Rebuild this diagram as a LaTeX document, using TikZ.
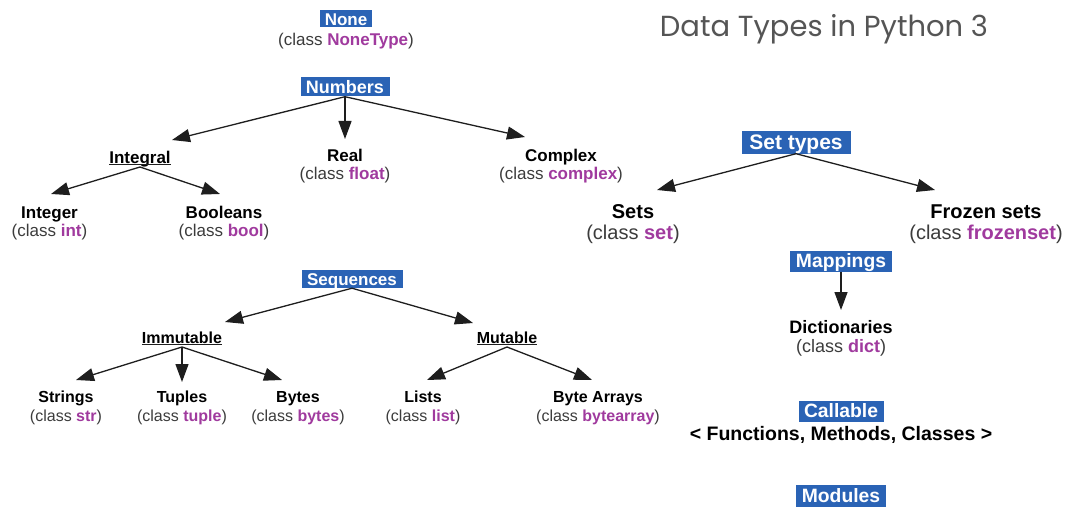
\documentclass[tikz,border=0pt]{standalone}
\usepackage{fontspec}
\setmainfont{Liberation Sans}
\newfontfamily\titlefont{Poppins}
\usetikzlibrary{arrows.meta}
\definecolor{boxblue}{HTML}{2A63B5}
\definecolor{clsmag}{HTML}{A03A9E}
\definecolor{clsgray}{HTML}{3C3C3C}
\definecolor{linec}{HTML}{1E1E1E}
\definecolor{titlegray}{HTML}{555555}
\newcommand{\clsline}[1]{\textcolor{clsgray}{(class \textbf{\textcolor{clsmag}{#1}})}}
\newcommand{\fsz}[1]{\fontsize{#1}{#1}\selectfont}
\tikzset{
  bx/.style={fill=boxblue, text=white, inner sep=0pt, anchor=center},
  lab/.style={inner sep=0pt, anchor=base, text=black},
  clsn/.style={inner sep=0pt, anchor=base},
  arr/.style={draw=linec, line width=1.3pt, -{Triangle[length=18pt,width=13pt]}},
  ul/.style={draw=linec, line width=1pt}
}
\begin{document}
\begin{tikzpicture}[x=1pt,y=1pt]
\useasboundingbox[fill=white] (0,0) rectangle (1067,-508);

% title
\node[text=titlegray, font=\titlefont\fsz{29}, inner sep=0pt] (title) at (824,-29) {Data Types in Python 3};

% None
\node[bx, minimum width=52pt, minimum height=17pt, text height=12.2pt, text depth=0pt, font=\bfseries\fsz{17}] (none) at (346,-19) {None};
\node[clsn, font=\fsz{17}] (nonec) at (346,-46) {\clsline{NoneType}};

% Numbers
\node[bx, minimum width=89pt, minimum height=19pt, text height=12.9pt, text depth=0pt, font=\bfseries\fsz{18}] (numbers) at (345,-87) {Numbers};
\node[lab, font=\bfseries\fsz{17}] (integral) at (140,-163) {Integral};
\node[lab, font=\bfseries\fsz{17}] (real) at (345,-161) {Real};
\node[clsn, font=\fsz{17}] (realc) at (345,-179) {\clsline{float}};
\node[lab, font=\bfseries\fsz{17}] (complex) at (561,-161) {Complex};
\node[clsn, font=\fsz{17}] (complexc) at (561,-179) {\clsline{complex}};
\node[lab, font=\bfseries\fsz{17}] (integer) at (49.5,-218) {Integer};
\node[clsn, font=\fsz{17}] (integerc) at (49.5,-236) {\clsline{int}};
\node[lab, font=\bfseries\fsz{17}] (booleans) at (224,-218) {Booleans};
\node[clsn, font=\fsz{17}] (booleansc) at (224,-236) {\clsline{bool}};

\draw[ul] ([yshift=-1.5pt]integral.base west) -- ([yshift=-1.5pt]integral.base east);
\draw[arr] (numbers.south) -- ([shift={(32pt,23pt)}]integral.base);
\draw[arr] (numbers.south) -- ([shift={(0pt,22pt)}]real.base);
\draw[arr] (numbers.south) -- ([shift={(-36pt,24pt)}]complex.base);
\draw[arr] ([yshift=-4pt]integral.base) -- ([shift={(1.5pt,24pt)}]integer.base);
\draw[arr] ([yshift=-4pt]integral.base) -- ([shift={(-4pt,24pt)}]booleans.base);

% Set types
\node[bx, minimum width=109pt, minimum height=23pt, text height=15pt, text depth=0pt, font=\bfseries\fsz{21}] (settypes) at (796,-142) {Set types};
\node[lab, font=\bfseries\fsz{20}] (sets) at (633,-218) {Sets};
\node[clsn, font=\fsz{20}] (setsc) at (633,-239) {\clsline{set}};
\node[lab, font=\bfseries\fsz{20}] (frozen) at (986,-218) {Frozen sets};
\node[clsn, font=\fsz{20}] (frozenc) at (986,-239) {\clsline{frozenset}};
\draw[arr] (settypes.south) -- ([shift={(24pt,28pt)}]sets.base);
\draw[arr] (settypes.south) -- ([shift={(-51pt,28pt)}]frozen.base);

% Mappings
\node[bx, minimum width=102pt, minimum height=21pt, text height=13.8pt, text depth=0pt, font=\bfseries\fsz{19.3}] (mappings) at (841,-261) {Mappings};
\node[lab, font=\bfseries\fsz{18}] (dict) at (841,-333.5) {Dictionaries};
\node[clsn, font=\fsz{18}] (dictc) at (841,-352.5) {\clsline{dict}};
\draw[arr] (mappings.south) -- ([shift={(0pt,23.5pt)}]dict.base);

% Callable
\node[bx, minimum width=85pt, minimum height=21pt, text height=13.8pt, text depth=0pt, font=\bfseries\fsz{19.3}] (callable) at (841,-411) {Callable};
\node[lab, font=\bfseries\fsz{19.5}] (funcs) at (841,-440) {< Functions, Methods, Classes >};

% Modules
\node[bx, minimum width=90pt, minimum height=22pt, text height=13.8pt, text depth=0pt, font=\bfseries\fsz{19.3}] (modules) at (841,-496) {Modules};

% Sequences
\node[bx, minimum width=101pt, minimum height=18pt, text height=12.2pt, text depth=0pt, font=\bfseries\fsz{17}] (sequences) at (352,-279) {Sequences};
\node[lab, font=\bfseries\fsz{16}] (immutable) at (182,-343) {Immutable};
\node[lab, font=\bfseries\fsz{16}] (mutable) at (507,-343) {Mutable};
\draw[ul] ([yshift=-1.5pt]immutable.base west) -- ([yshift=-1.5pt]immutable.base east);
\draw[ul] ([yshift=-1.5pt]mutable.base west) -- ([yshift=-1.5pt]mutable.base east);

\node[lab, font=\bfseries\fsz{16}] (strings) at (66,-402) {Strings};
\node[clsn, font=\fsz{16}] (stringsc) at (66,-421) {\clsline{str}};
\node[lab, font=\bfseries\fsz{16}] (tuples) at (182,-402) {Tuples};
\node[clsn, font=\fsz{16}] (tuplesc) at (182,-421) {\clsline{tuple}};
\node[lab, font=\bfseries\fsz{16}] (bytes) at (298,-402) {Bytes};
\node[clsn, font=\fsz{16}] (bytesc) at (298,-421) {\clsline{bytes}};
\node[lab, font=\bfseries\fsz{16}] (lists) at (423,-402) {Lists};
\node[clsn, font=\fsz{16}] (listsc) at (423,-421) {\clsline{list}};
\node[lab, font=\bfseries\fsz{16}] (bytearrays) at (598,-402) {Byte Arrays};
\node[clsn, font=\fsz{16}] (bytearraysc) at (598,-421) {\clsline{bytearray}};

\draw[arr] (sequences.south) -- ([shift={(43pt,21pt)}]immutable.base);
\draw[arr] (sequences.south) -- ([shift={(-34pt,20pt)}]mutable.base);
\draw[arr] ([yshift=-4pt]immutable.base) -- ([shift={(10pt,22pt)}]strings.base);
\draw[arr] ([yshift=-4pt]immutable.base) -- ([shift={(0pt,20pt)}]tuples.base);
\draw[arr] ([yshift=-4pt]immutable.base) -- ([shift={(-16pt,22pt)}]bytes.base);
\draw[arr] ([yshift=-4pt]mutable.base) -- ([shift={(4pt,22pt)}]lists.base);
\draw[arr] ([yshift=-4pt]mutable.base) -- ([shift={(-6pt,22pt)}]bytearrays.base);
\end{tikzpicture}
\end{document}
